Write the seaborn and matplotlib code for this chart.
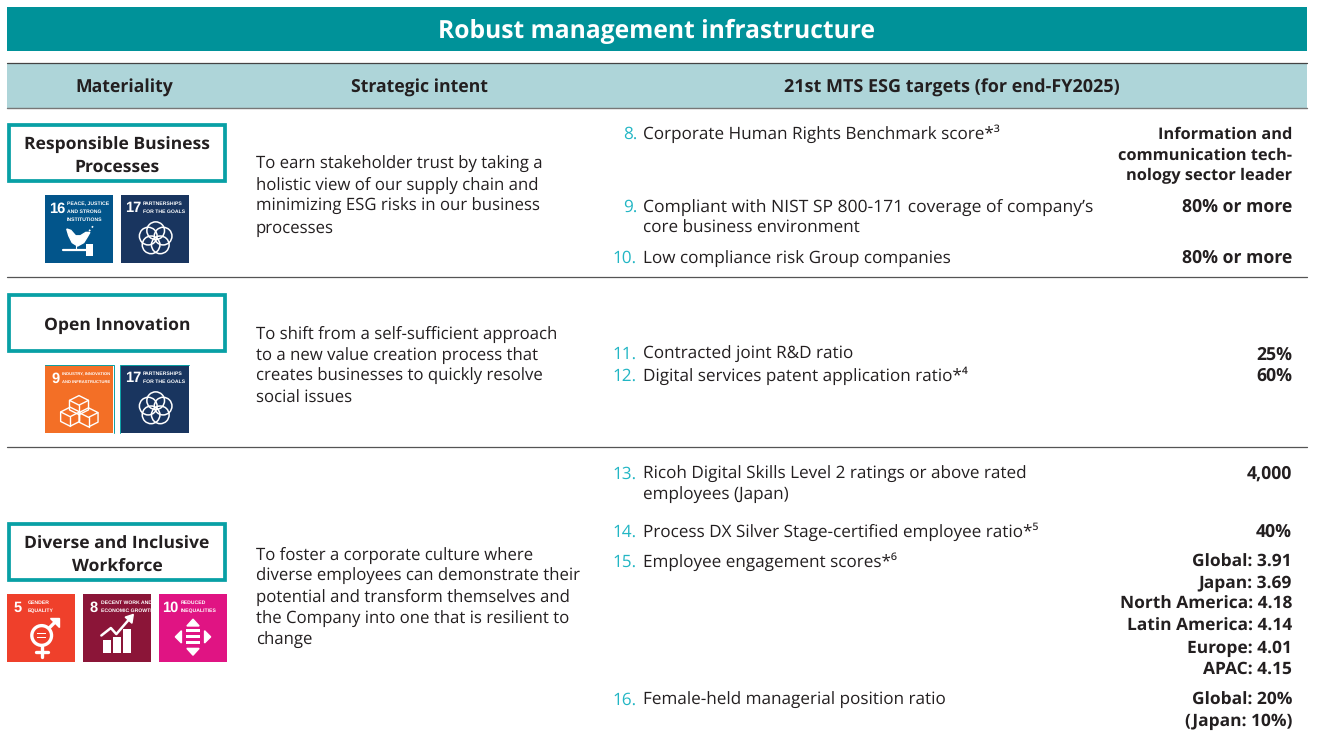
import numpy as np
import matplotlib.pyplot as plt
import matplotlib.patches as mp
import seaborn as sns

# table content
title = 'Robust management infrastructure'
headers = ['Materiality', 'Strategic intent', '21st MTS ESG targets (for end-FY2025)']
materiality = ['Responsible Business\nProcesses', 'Open Innovation', 'Diverse and Inclusive\nWorkforce']
intents = [
    ['To earn stakeholder trust by taking a', 'holistic view of our supply chain and',
     'minimizing ESG risks in our business', 'processes'],
    ['To shift from a self-sufficient approach', 'to a new value creation process that',
     'creates businesses to quickly resolve', 'social issues'],
    ['To foster a corporate culture where', 'diverse employees can demonstrate their',
     'potential and transform themselves and', 'the Company into one that is resilient to', 'change'],
]
numbers = ['8.', '9.', '10.', '11.', '12.', '13.', '14.', '15.', '16.']
labels = [
    ['Corporate Human Rights Benchmark score*³'],
    ['Compliant with NIST SP 800-171 coverage of company’s', 'core business environment'],
    ['Low compliance risk Group companies'],
    ['Contracted joint R&D ratio'],
    ['Digital services patent application ratio*⁴'],
    ['Ricoh Digital Skills Level 2 ratings or above rated', 'employees (Japan)'],
    ['Process DX Silver Stage-certified employee ratio*⁵'],
    ['Employee engagement scores*⁶'],
    ['Female-held managerial position ratio'],
]
values = [
    ['Information and', 'communication tech-', 'nology sector leader'],
    ['80% or more'],
    ['80% or more'],
    ['25%'],
    ['60%'],
    ['4,000'],
    ['40%'],
    ['Global: 3.91', 'Japan: 3.69', 'North America: 4.18', 'Latin America: 4.14', 'Europe: 4.01', 'APAC: 4.15'],
    ['Global: 20%', '(Japan: 10%)'],
]
sdg_names = {
    16: ['PEACE, JUSTICE', 'AND STRONG', 'INSTITUTIONS'],
    17: ['PARTNERSHIPS', 'FOR THE GOALS'],
    9: ['INDUSTRY, INNOVATION', 'AND INFRASTRUCTURE'],
    5: ['GENDER', 'EQUALITY'],
    8: ['DECENT WORK AND', 'ECONOMIC GROWTH'],
    10: ['REDUCED', 'INEQUALITIES'],
}
sdg_colors = {16: '#02558b', 17: '#19355f', 9: '#f36f26', 5: '#ef402b', 8: '#8b1538', 10: '#e01483'}

TEAL = '#009299'
BOX = '#08a0a5'
BAND = '#aed5d9'
NUM = '#22b6c4'
INK = '#231f20'

sns.set_theme(style='white')
plt.rcParams['font.family'] = ['Open Sans', 'DejaVu Sans']
plt.rcParams['text.hinting'] = 'no_hinting'

fig, ax = plt.subplots(figsize=(13.19, 7.36), dpi=100)
ax.set_position([0, 0, 1, 1])
ax.set_xlim(0, 1319)
ax.set_ylim(736, 0)
ax.set_xticks([])
ax.set_yticks([])
sns.despine(ax=ax, left=True, bottom=True)

BODY = 12.1
LABEL = 12.3


def line_text(x, y, s, ha='left', size=BODY, weight='normal', color=INK):
    ax.text(x, y + size * 0.47, s, ha=ha, va='baseline', fontsize=size, fontweight=weight, color=color)


def rect(x0, y0, x1, y1, **kw):
    ax.add_patch(mp.Rectangle((x0, y0), x1 - x0, y1 - y0, linewidth=kw.pop('lw', 0), **kw))


# title and header bands
rect(7, 7, 1307, 51, facecolor=TEAL)
line_text(657, 30, title, ha='center', size=17.7, weight='bold', color='white')
rect(7, 63, 1307, 108, facecolor=BAND)
ax.plot([7, 1307], [63, 63], color='#444444', lw=0.9)
ax.plot([7, 1307], [108, 108], color='#777777', lw=1.0)
for cx, h, fs in zip([124, 419, 952], headers, [12.7, 12.7, 13.0]):
    line_text(cx, 87, h, ha='center', weight='bold', size=fs)
for y in [277.3, 447.3]:
    ax.plot([7, 1307], [y, y], color='#555555', lw=0.9)


def icon(n, x0, y0, s=68):
    rect(x0, y0, x0 + s, y0 + s, facecolor=sdg_colors[n])
    X = lambda u: x0 + u * s
    Y = lambda v: y0 + v * s
    w = 'white'
    nx = {16: .18, 17: .18, 9: .15, 5: .155, 8: .15, 10: .16}[n]
    ax.text(X(nx), Y(0.20), str(n), ha='center', va='center', color=w, fontsize=10.5,
            fontweight='bold', family='Liberation Sans')
    tx = {16: 0.32, 17: 0.32, 9: 0.25, 5: 0.30, 8: 0.265, 10: 0.32}[n]
    fs = 3.7 if n != 9 else 3.0
    for i, part in enumerate(sdg_names[n]):
        ax.text(X(tx), Y(0.13 + i * 0.115), part, ha='left', va='center', color=w, fontsize=fs,
                fontweight='bold', family='Liberation Sans')
    if n == 17:
        for a in np.arange(5) * 2 * np.pi / 5:
            ax.add_patch(mp.Circle((X(0.51 + 0.115 * np.sin(a)), Y(0.64 - 0.115 * np.cos(a))), 0.13 * s,
                                   fill=False, edgecolor=w, lw=1.1))
    elif n == 16:
        dove = [(.32, .50), (.38, .52), (.45, .60), (.52, .60), (.60, .55), (.66, .55), (.62, .62),
                (.57, .70), (.48, .75), (.40, .70), (.35, .60)]
        ax.add_patch(mp.Polygon([(X(a), Y(b)) for a, b in dove], facecolor=w))
        ax.plot([X(.65), X(.72)], [Y(.53), Y(.44)], color=w, lw=1.2, ls=':')
        ax.plot([X(.46), X(.46)], [Y(.74), Y(.80)], color=w, lw=0.8)
        ax.plot([X(.27), X(.66)], [Y(.81), Y(.81)], color=w, lw=1.6)
        rect(X(.60), Y(.72), X(.71), Y(.90), facecolor=w)
    elif n == 9:
        for cx, cy in [(.5, .54), (.37, .71), (.64, .72)]:
            top = [(cx, cy - .09), (cx + .14, cy - .02), (cx, cy + .05), (cx - .14, cy - .02)]
            box = [(cx - .14, cy - .02), (cx - .14, cy + .12), (cx, cy + .19), (cx + .14, cy + .12),
                   (cx + .14, cy - .02)]
            ax.add_patch(mp.Polygon([(X(a), Y(b)) for a, b in top], fill=False, edgecolor=w, lw=1))
            ax.plot([X(a) for a, b in box], [Y(b) for a, b in box], color=w, lw=1)
            ax.plot([X(cx), X(cx)], [Y(cy + .05), Y(cy + .19)], color=w, lw=1)
    elif n == 5:
        ax.add_patch(mp.Circle((X(.51), Y(.61)), .145 * s, fill=False, edgecolor=w, lw=2.4))
        rect(X(.44), Y(.57), X(.58), Y(.595), facecolor=w)
        rect(X(.44), Y(.625), X(.58), Y(.65), facecolor=w)
        ax.plot([X(.51), X(.51)], [Y(.76), Y(.93)], color=w, lw=2.4)
        ax.plot([X(.42), X(.60)], [Y(.86), Y(.86)], color=w, lw=2.4)
        ax.plot([X(.62), X(.72)], [Y(.50), Y(.40)], color=w, lw=2.4)
        ax.add_patch(mp.Polygon([(X(.63), Y(.35)), (X(.76), Y(.35)), (X(.76), Y(.48))], facecolor=w))
    elif n == 8:
        for a, top in [(.29, .67), (.44, .63), (.59, .52)]:
            rect(X(a), Y(top), X(a + .12), Y(.87), facecolor=w)
        ax.plot([X(.27), X(.41), X(.49), X(.68)], [Y(.61), Y(.50), Y(.59), Y(.37)], color=w, lw=1.8)
        ax.add_patch(mp.Polygon([(X(.62), Y(.34)), (X(.74), Y(.30)), (X(.72), Y(.43))], facecolor=w))
    elif n == 10:
        for v in [.54, .63, .72]:
            rect(X(.40), Y(v - .03), X(.60), Y(v + .02), facecolor=w)
        for tri in [[(.5, .37), (.41, .47), (.59, .47)], [(.5, .90), (.41, .80), (.59, .80)],
                    [(.24, .63), (.33, .54), (.33, .72)], [(.76, .63), (.67, .54), (.67, .72)]]:
            ax.add_patch(mp.Polygon([(X(a), Y(b)) for a, b in tri], facecolor=w))


# materiality column
box_top = [123, 293, 522]
for top, name in zip(box_top, materiality):
    ax.add_patch(mp.Rectangle((9, top + 2), 216, 56, facecolor='white', edgecolor=BOX, lw=2.7))
    rows = name.split('\n')
    cy = [top + 21, top + 43] if len(rows) == 2 else [top + 32]
    for y, r in zip(cy, rows):
        line_text(117, y, r, ha='center', weight='bold', size=12.6)
for n, x, y in [(16, 45, 195), (17, 121, 195), (9, 45, 365), (17, 121, 365),
                (5, 7, 594), (8, 83, 594), (10, 159, 594)]:
    icon(n, x, y)
# thin teal edge around the Open Innovation icons
ax.plot([45, 114, 114], [364.5, 364.5, 433], color=BOX, lw=0.7)
ax.plot([120, 120, 189], [433, 364.5, 364.5], color=BOX, lw=0.7)

# strategic intent
intent_y = [[163, 184, 205, 227], [333, 354, 375, 397], [554, 575, 596, 618, 639]]
for ys, rows in zip(intent_y, intents):
    for y, r in zip(ys, rows):
        line_text(256, y, r)

# targets
label_y = [[133], [206, 227], [257], [353], [375], [473, 494], [531], [561], [699]]
value_y = [[133, 154, 175], [206], [257], [354], [375], [473], [531],
           [561, 582, 603, 625, 647, 668], [699, 720]]
for num, lab, ly, val, vy in zip(numbers, labels, label_y, values, value_y):
    line_text(637, ly[0], num, ha='right', color=NUM, size=LABEL)
    for y, r in zip(ly, lab):
        line_text(643, y, r, size=12.6 if r.startswith('Compliant') else LABEL)
    for y, r in zip(vy, val):
        if not any(c.isdigit() for c in r):
            fs = 11.8
        elif ':' in r:
            fs = 12.5
        else:
            fs = 12.7
        line_text(1292, y, r, ha='right', weight='bold', size=fs)

fig.savefig('out.png', dpi=100)
